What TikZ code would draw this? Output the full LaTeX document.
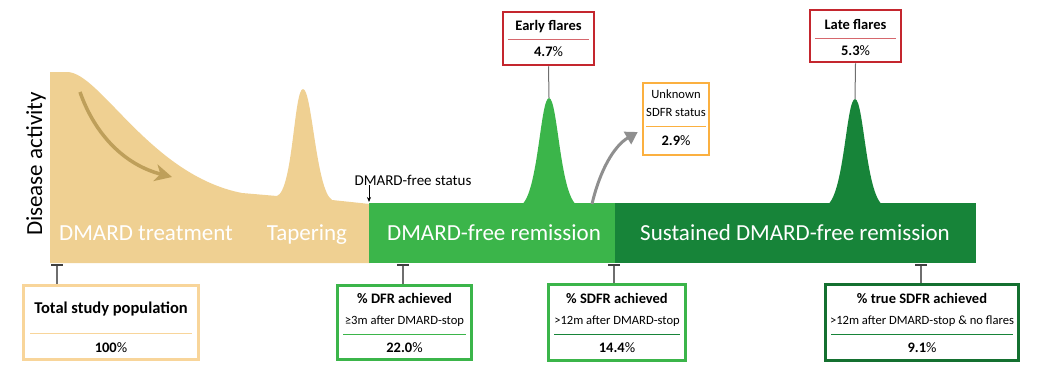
\documentclass[tikz,border=0pt]{standalone}
\usepackage{fontspec}
\setmainfont{Carlito}
\usetikzlibrary{positioning, arrows.meta}
\definecolor{tanFill}{HTML}{EFD092}
\definecolor{tanArrow}{HTML}{BE9F5A}
\definecolor{tanEdge}{HTML}{F8D59A}
\definecolor{remGreen}{HTML}{3BB54A}
\definecolor{sdfrGreen}{HTML}{178439}
\definecolor{flareRed}{HTML}{C4262E}
\definecolor{unkOrange}{HTML}{FBB040}
\definecolor{lineGrey}{HTML}{6E6E6E}
\definecolor{arrowGrey}{HTML}{8F8F8F}

\begin{document}
\begin{tikzpicture}[x=1pt, y=-1pt,
  every node/.style={align=center, inner sep=0pt},
  infobox/.style={draw, line width=2.5pt, fill=white},
  bigttl/.style={font=\fontsize{16.5}{19}\selectfont\bfseries, text height=11pt, text depth=3pt},
  ttl/.style={font=\fontsize{14.5}{17}\selectfont\bfseries, text height=10pt, text depth=3pt},
  sub/.style={font=\fontsize{12.6}{14}\selectfont, text height=8.5pt, text depth=2.5pt},
  barlbl/.style={text=white, font=\fontsize{23}{27}\selectfont, anchor=base},
  tick/.style={lineGrey, line width=1.3pt, {Bar[width=12pt, line width=1.6pt, color=black!75]}-},
  sepline/.style={line width=1pt}]
  \useasboundingbox (0,0) rectangle (1040,373);
  % treatment and tapering area
  \fill[tanFill] (50,263) -- (50,72) -- (67,72) .. controls (100,72) and (150,175) .. (242,193)
    -- (277,196) .. controls (293,190) and (294,89) .. (303,89) .. controls (312,89) and (316,190) .. (332,200)
    -- (370,204) -- (370,263) -- cycle;
  \draw[tanArrow, line width=3.5pt, -{Stealth[length=17pt, width=17pt, inset=5pt]}] (80,92) .. controls (95,135) and (125,165) .. (172,177);
  \node[barlbl] (treat) at (146,240) {DMARD treatment};
  \node[barlbl] (taper) at (307,240) {Tapering};
  % remission bars
  \node[fill=remGreen, minimum width=246pt, minimum height=60pt] (dfrbar) at (492,233) {};
  \node[fill=sdfrGreen, minimum width=361pt, minimum height=60pt] (sdfrbar) at (795,233) {};
  \fill[remGreen] (519,206) .. controls (538,202) and (540,98) .. (549,98) .. controls (558,98) and (560,202) .. (579,206) -- cycle;
  \fill[sdfrGreen] (825,206) .. controls (844,202) and (846,99) .. (855,99) .. controls (864,99) and (866,202) .. (885,206) -- cycle;
  \coordinate (earlytop) at (549,98);
  \coordinate (latetop) at (855,99);
  \node[barlbl] (dfrlbl) at (494,240) {DMARD-free remission};
  \node[barlbl] (sdfrlbl) at (795,240) {Sustained DMARD-free remission};
  % axis label
  \node[rotate=90, font=\fontsize{23}{27}\selectfont] (yaxis) at (36,164) {Disease activity};
  % DMARD-free status
  \node[font=\fontsize{15}{18}\selectfont] (status) at (413,180) {DMARD-free status};
  \coordinate (dfstart) at (369,202);
  \draw[-{Stealth[length=5pt, width=4pt]}, line width=0.7pt] (dfstart |- status.south) -- (dfstart);
  % flare boxes
  \node[infobox, draw=flareRed, minimum width=91pt, minimum height=53pt] (early) at (548.5,38.5) {};
  \node[ttl] at ([yshift=-16pt]early.north) {Early flares};
  \draw[sepline, flareRed!70] ([xshift=6pt, yshift=-29pt]early.north west) -- ([xshift=-6pt, yshift=-29pt]early.north east);
  \node[ttl] at ([yshift=-42pt]early.north) {4.7{\mdseries\%}};
  \draw[lineGrey, line width=1pt] (early.south) -- (earlytop);
  \node[infobox, draw=flareRed, minimum width=91pt, minimum height=52pt] (late) at (855.5,36) {};
  \node[ttl] at ([yshift=-17pt]late.north) {Late flares};
  \draw[sepline, flareRed!70] ([xshift=6pt, yshift=-30pt]late.north west) -- ([xshift=-6pt, yshift=-30pt]late.north east);
  \node[ttl] at ([yshift=-43pt]late.north) {5.3{\mdseries\%}};
  \draw[lineGrey, line width=1pt] (late.south) -- (latetop);
  % unknown status
  \node[infobox, draw=unkOrange, minimum width=66pt, minimum height=72pt] (unknown) at (676,119) {};
  \node[sub] at ([yshift=-14pt]unknown.north) {Unknown};
  \node[sub] at ([yshift=-32pt]unknown.north) {SDFR status};
  \draw[sepline, unkOrange] ([xshift=4pt, yshift=-45pt]unknown.north west) -- ([xshift=-4pt, yshift=-45pt]unknown.north east);
  \node[ttl] at ([yshift=-60pt]unknown.north) {2.9{\mdseries\%}};
  \coordinate (lossstart) at (592,204);
  \draw[arrowGrey, line width=3pt, -{Triangle[length=12pt, width=14pt]}] (lossstart) .. controls (600,170) and (614,146) .. ([shift={(-4,13)}]unknown.west);
  % bottom boxes
  \node[infobox, draw=tanEdge, minimum width=175pt, minimum height=74pt] (total) at (111,322.5) {};
  \node[bigttl] at ([yshift=-25pt]total.north) {Total study population};
  \draw[sepline, tanEdge] ([xshift=8pt, yshift=-49pt]total.north west) -- ([xshift=-8pt, yshift=-49pt]total.north east);
  \node[ttl] at ([yshift=-65pt]total.north) {100{\mdseries\%}};
  \node[infobox, draw=remGreen, minimum width=134pt, minimum height=74pt] (dfr) at (404.5,322.5) {};
  \node[ttl] at ([yshift=-16pt]dfr.north) {\% DFR achieved};
  \node[sub] at ([yshift=-37pt]dfr.north) {≥3m after DMARD-stop};
  \draw[sepline, remGreen] ([xshift=7pt, yshift=-50pt]dfr.north west) -- ([xshift=-7pt, yshift=-50pt]dfr.north east);
  \node[ttl] at ([yshift=-65pt]dfr.north) {22.0{\mdseries\%}};
  \node[infobox, draw=remGreen, minimum width=137pt, minimum height=76pt] (sdfr) at (617,322.5) {};
  \node[ttl] at ([yshift=-17pt]sdfr.north) {\% SDFR achieved};
  \node[sub] at ([yshift=-38pt]sdfr.north) {>12m after DMARD-stop};
  \draw[sepline, sdfrGreen] ([xshift=7pt, yshift=-51pt]sdfr.north west) -- ([xshift=-7pt, yshift=-51pt]sdfr.north east);
  \node[ttl] at ([yshift=-66pt]sdfr.north) {14.4{\mdseries\%}};
  \node[infobox, draw=sdfrGreen!85!black, minimum width=193pt, minimum height=76pt] (truesdfr) at (922,322.5) {};
  \node[ttl] at ([yshift=-17pt]truesdfr.north) {\% true SDFR achieved};
  \node[sub] at ([yshift=-38pt]truesdfr.north) {>12m after DMARD-stop \& no flares};
  \draw[sepline, sdfrGreen] ([xshift=7pt, yshift=-51pt]truesdfr.north west) -- ([xshift=-7pt, yshift=-51pt]truesdfr.north east);
  \node[ttl] at ([yshift=-66pt]truesdfr.north) {9.1{\mdseries\%}};
  % ticks
  \coordinate (tk1) at (57,264);
  \coordinate (tk2) at (403,264);
  \coordinate (tk3) at (614,264);
  \coordinate (tk4) at (921,264);
  \draw[tick] (tk1) -- (tk1 |- total.north);
  \draw[tick] (tk2) -- (tk2 |- dfr.north);
  \draw[tick] (tk3) -- (tk3 |- sdfr.north);
  \draw[tick] (tk4) -- (tk4 |- truesdfr.north);
\end{tikzpicture}
\end{document}
